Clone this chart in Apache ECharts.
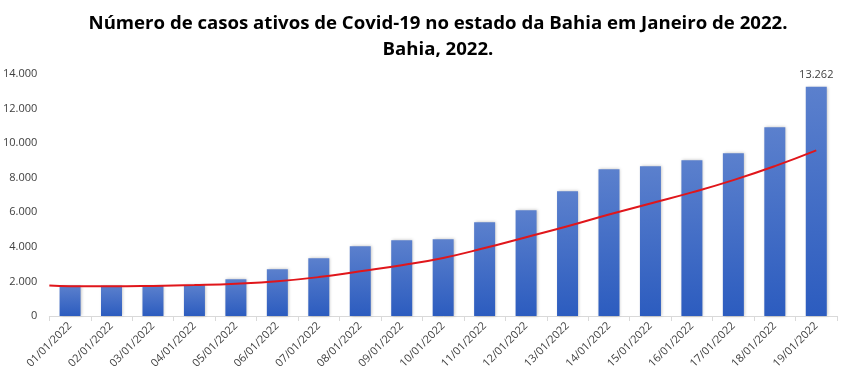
<!DOCTYPE html>
<html><head><meta charset="utf-8">
<script src="https://cdn.jsdelivr.net/npm/echarts@6/dist/echarts.min.js"></script>
<style>html,body{margin:0;padding:0;background:#fff}#c{width:847px;height:380px}</style>
</head><body><div id="c"></div>
<script>
const categories = ['01/01/2022','02/01/2022','03/01/2022','04/01/2022','05/01/2022','06/01/2022','07/01/2022','08/01/2022','09/01/2022','10/01/2022','11/01/2022','12/01/2022','13/01/2022','14/01/2022','15/01/2022','16/01/2022','17/01/2022','18/01/2022','19/01/2022'];
const casos = [1760,1750,1740,1780,2125,2700,3340,4035,4383,4441,5425,6120,7220,8494,8668,9015,9420,10926,13262];
// trend line (x in category units, 1 = first bar)
const trendX = [0.5,1,2,3,4,5,6,7,8,9,10,11,12,13,14,15,16,17,18,19];
const trendY = [1760,1720,1715,1740,1790,1870,2010,2250,2590,2940,3360,3930,4560,5190,5870,6510,7150,7860,8670,9580];
const yTicks = [0,2000,4000,6000,8000,10000,12000,14000];

const fmt = v => String(v).replace(/\B(?=(\d{3})+(?!\d))/g, '.');
const font = '"Open Sans", "Liberation Sans", sans-serif';
const chart = echarts.init(document.getElementById('c'));
chart.setOption({
  animation: false,
  title: {
    text: 'Número de casos ativos de Covid-19 no estado da Bahia em Janeiro de 2022.\nBahia, 2022.',
    left: 433, top: 6, textAlign: 'center',
    textStyle: {fontFamily: font, fontWeight: 'bold', fontSize: 18.6, lineHeight: 26, color: '#000'}
  },
  grid: {left: 49, right: 10, top: 74, bottom: 64, containLabel: false},
  xAxis: [{
    type: 'category', data: categories,
    axisLine: {lineStyle: {color: '#d9d9d9'}},
    axisTick: {show: true, alignWithLabel: false, length: 5, lineStyle: {color: '#d9d9d9'}},
    axisLabel: {rotate: 45, interval: 0, fontFamily: font, fontSize: 11, color: '#404040', margin: 8}
  }, {
    type: 'value', min: 0.5, max: 19.5, show: false
  }],
  yAxis: {
    type: 'value', min: 0, max: 14000, interval: 2000,
    axisLine: {show: false}, axisTick: {show: false}, splitLine: {show: false},
    axisLabel: {fontFamily: font, fontSize: 11, color: '#404040', margin: 12, formatter: v => fmt(v)}
  },
  series: [{
    type: 'bar', data: casos.map((v, i) => ({
      value: v,
      label: {show: i === casos.length - 1, position: 'top', distance: 6, formatter: p => fmt(p.value), fontFamily: font, fontSize: 11, color: '#404040'}
    })),
    barWidth: 21,
    itemStyle: {
      color: new echarts.graphic.LinearGradient(0, 0, 0, 1, [{offset: 0, color: '#5b80cd'}, {offset: 1, color: '#2c5cbf'}]),
      shadowColor: 'rgba(0,0,0,0.25)', shadowBlur: 3, shadowOffsetX: 1
    }
  }, {
    type: 'line', xAxisIndex: 1, smooth: true, symbol: 'none',
    data: trendX.map((x, i) => [x, trendY[i]]),
    lineStyle: {color: '#e0161b', width: 2}
  }]
});
</script></body></html>
